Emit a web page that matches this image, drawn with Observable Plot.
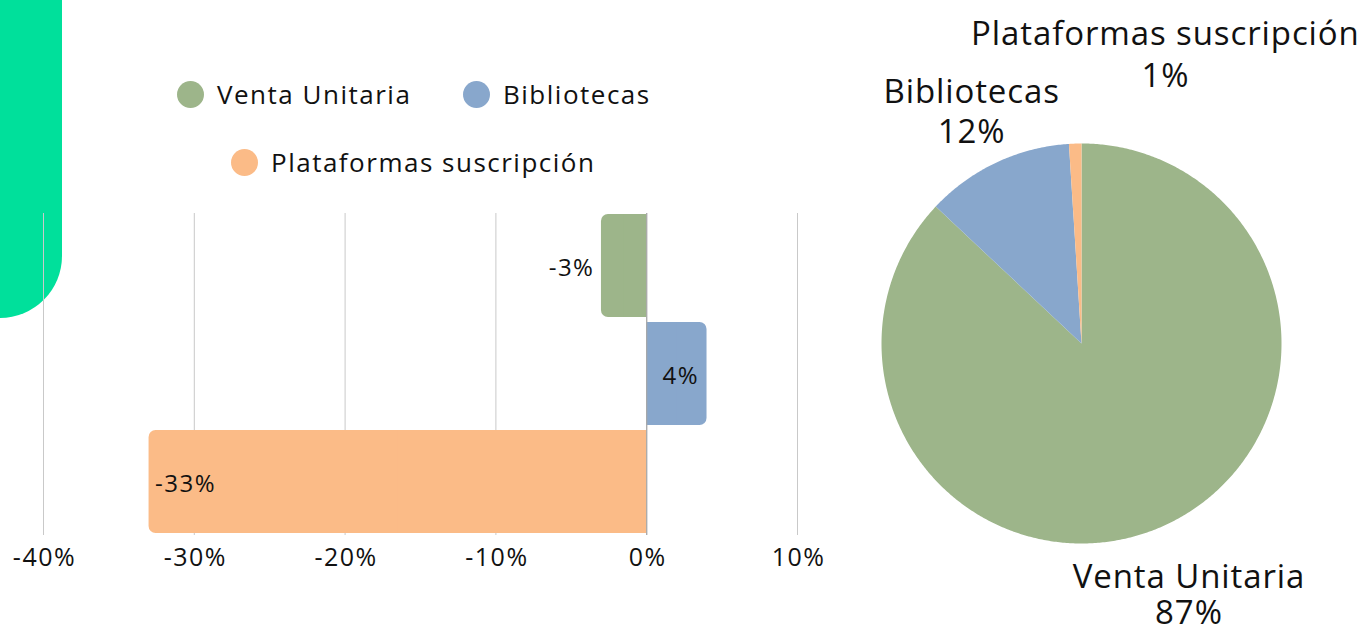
<!DOCTYPE html>
<html><head><meta charset="utf-8">
<script src="https://cdn.jsdelivr.net/npm/d3@7"></script>
<script src="https://cdn.jsdelivr.net/npm/@observablehq/plot@0.6"></script>
<style>
body{margin:0;background:#fff;font-family:"Open Sans",sans-serif;color:#111}
#wrap{position:relative;width:1359px;height:628px;overflow:hidden;background:#fff}
#deco{position:absolute;left:0;top:-20px;width:62px;height:338px;background:#00E09B;border-bottom-right-radius:62px}
.leg{position:absolute;display:flex;align-items:center;font-size:26px;letter-spacing:1.5px;white-space:nowrap;transform:translateY(-50%);color:#111}
.leg .dot{width:27px;height:27px;border-radius:50%;margin-right:13px;flex:none}
#bar{position:absolute;left:0;top:200px}
#pie{position:absolute;left:860px;top:0}
svg{overflow:visible}
</style></head><body><div id="wrap">
<div id="deco"></div>
<div id="legend"></div>
<div id="bar"></div>
<div id="pie"></div>
</div>
<script>
// ---- data ----
const categories = ["Venta Unitaria", "Bibliotecas", "Plataformas suscripción"];
const colors = ["#9DB58A", "#88A7CC", "#FBBB87"];
const change = [-3, 4, -33];      // variación (%)
const share = [87, 12, 1];        // cuota (%)
const xTicks = [-40, -30, -20, -10, 0, 10];

const FONT = '"Open Sans", sans-serif';

// ---- legend (HTML) ----
const legendPos = [[177, 94], [463, 94], [231, 162]];
const legend = document.getElementById("legend");
categories.forEach((c, i) => {
  const el = document.createElement("div");
  el.className = "leg";
  el.style.left = legendPos[i][0] + "px";
  el.style.top = legendPos[i][1] + "px";
  el.innerHTML = `<span class="dot" style="background:${colors[i]}"></span><span>${c}</span>`;
  legend.appendChild(el);
});

// ---- bar chart ----
const barData = categories.map((c, i) => ({cat: c, v: change[i], label: `${change[i]}%`}));
const inside = d => Math.abs(d.v) > 3;
const bar = Plot.plot({
  width: 840, height: 380,
  marginLeft: 43, marginRight: 43, marginTop: 13, marginBottom: 45,
  style: {fontFamily: FONT, fontSize: "24px", letterSpacing: "1.5px", color: "#111", background: "transparent"},
  x: {domain: [-40, 10], axis: null},
  y: {domain: categories, paddingInner: 0.045, paddingOuter: 0, axis: null},
  color: {domain: categories, range: colors},
  marks: [
    Plot.ruleX(xTicks, {stroke: "#c9c9c9", strokeWidth: 1}),
    Plot.barX(barData, {x1: 0, x2: "v", y: "cat", fill: "cat", rx: 7}),
    Plot.barX(barData, {x1: d => d.v / 2, x2: 0, y: "cat", fill: "cat"}),
    Plot.ruleX([0], {stroke: "#a8a8a8", strokeWidth: 1.2}),
    Plot.text(barData.filter(d => !inside(d)), {x: "v", y: "cat", text: "label", textAnchor: "end", dx: -7, dy: 2, fontSize: 24, fill: "#111"}),
    Plot.text(barData.filter(d => inside(d) && d.v > 0), {x: "v", y: "cat", text: "label", textAnchor: "end", dx: -8, dy: 2, fontSize: 24, fill: "#111"}),
    Plot.text(barData.filter(d => inside(d) && d.v < 0), {x: "v", y: "cat", text: "label", textAnchor: "start", dx: 6, dy: 2, fontSize: 24, fill: "#111"}),
    Plot.text(xTicks, {x: d => d, frameAnchor: "bottom", dy: 30, dx: 1, text: d => d + "%", fontSize: 25, fill: "#111"})
  ]
});
document.getElementById("bar").appendChild(bar);

// ---- pie chart ----
const arcs = d3.pie().sort(null).value(d => d)(share);
const slicePts = [];
arcs.forEach((a, i) => {
  slicePts.push({cat: categories[i], x: 0, y: 0});
  const n = Math.max(4, Math.ceil((a.endAngle - a.startAngle) / (Math.PI / 360)));
  for (let k = 0; k <= n; k++) {
    const t = a.startAngle + (a.endAngle - a.startAngle) * k / n;
    slicePts.push({cat: categories[i], x: Math.sin(t), y: Math.cos(t)});
  }
  slicePts.push({cat: categories[i], x: 0, y: 0});
});
const labelR = 1.29;
const labelStyle = {
  "Venta Unitaria": {dx: 5, dy: 14, lh: 1.1},
  "Bibliotecas": {dx: 0, dy: 0, lh: 1.22},
  "Plataformas suscripción": {dx: 92, dy: -33, lh: 1.28}
};
const pieLabels = arcs.map((a, i) => {
  const m = (a.startAngle + a.endAngle) / 2;
  return {cat: categories[i], x: labelR * Math.sin(m), y: labelR * Math.cos(m),
          text: `${categories[i]}\n${share[i]}%`};
});
const pie = Plot.plot({
  width: 499, height: 628,
  marginLeft: 21, marginRight: 78, marginTop: 143, marginBottom: 85,
  style: {fontFamily: FONT, fontSize: "33px", letterSpacing: "0.9px", color: "#111", background: "transparent"},
  x: {domain: [-1, 1], axis: null},
  y: {domain: [-1, 1], axis: null},
  color: {domain: categories, range: colors},
  marks: [
    Plot.line(slicePts, {x: "x", y: "y", z: "cat", fill: "cat", stroke: "none", curve: "linear"}),
    ...pieLabels.map(l => Plot.text([l], {x: "x", y: "y", text: "text", fontSize: 33, fill: "#111",
        lineHeight: labelStyle[l.cat].lh, dx: labelStyle[l.cat].dx, dy: labelStyle[l.cat].dy}))
  ]
});
document.getElementById("pie").appendChild(pie);
</script>
</body></html>
